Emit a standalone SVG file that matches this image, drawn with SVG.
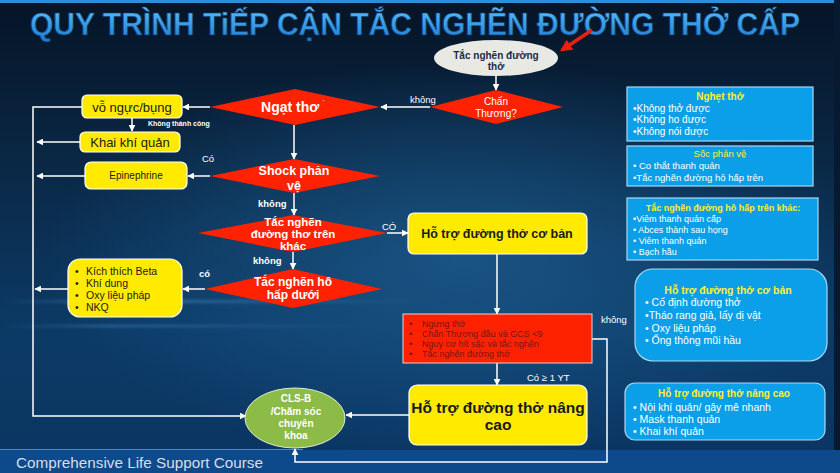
<svg xmlns="http://www.w3.org/2000/svg" width="840" height="473" viewBox="0 0 840 473">
  <defs>
    <linearGradient id="bg" x1="0" y1="0" x2="0" y2="1">
      <stop offset="0" stop-color="#061426"/>
      <stop offset="0.35" stop-color="#0a2846"/>
      <stop offset="0.7" stop-color="#0c3a66"/>
      <stop offset="1" stop-color="#0b3562"/>
    </linearGradient>
    <radialGradient id="glow" cx="0.55" cy="0.5" r="0.5">
      <stop offset="0" stop-color="#1d5f93" stop-opacity="0.75"/>
      <stop offset="1" stop-color="#1d5f93" stop-opacity="0"/>
    </radialGradient>
    <linearGradient id="titleFill" x1="0" y1="0" x2="0" y2="1">
      <stop offset="0" stop-color="#5cc0ff"/>
      <stop offset="1" stop-color="#1a78cc"/>
    </linearGradient>
    <linearGradient id="streak" x1="0" y1="0" x2="1" y2="0">
      <stop offset="0" stop-color="#5aa8e8" stop-opacity="0"/>
      <stop offset="0.3" stop-color="#5aa8e8" stop-opacity="0.45"/>
      <stop offset="1" stop-color="#5aa8e8" stop-opacity="0"/>
    </linearGradient>
    <filter id="soft" x="-10%" y="-200%" width="120%" height="500%">
      <feGaussianBlur stdDeviation="1.5"/>
    </filter>
    <marker id="arrow" viewBox="0 0 10 10" refX="9" refY="5" markerWidth="7" markerHeight="7" markerUnits="userSpaceOnUse" orient="auto">
      <path d="M0 0 L10 5 L0 10 z" fill="#ffffff"/>
    </marker>
    <marker id="redArrow" viewBox="0 0 10 10" refX="8" refY="5" markerWidth="12" markerHeight="12" markerUnits="userSpaceOnUse" orient="auto">
      <path d="M0 0 L10 5 L0 10 z" fill="#e8200e"/>
    </marker>
  </defs>
  <style>
    text { font-family: "Liberation Sans", Arial, sans-serif; }
    .title { font-family: "Liberation Sans Narrow", "Liberation Sans", sans-serif; font-weight: bold; font-size: 31px; fill: url(#titleFill); stroke: #0a3a6a; stroke-width: 0.6px; }
    .conn { fill: none; stroke: #ffffff; stroke-width: 1.5; }
    .yellow { fill: #ffea00; stroke: #ffffff; stroke-width: 1.2; }
    .diamond { fill: #ff2200; }
    .dtxt { fill: #ffffff; font-weight: bold; text-anchor: middle; }
    .ytxt { fill: #1a1a1a; text-anchor: middle; }
    .lbl { fill: #ffffff; font-size: 9.5px; }
    .blue { fill: #0a9fe8; stroke: #a8d8f4; stroke-width: 1.2; }
    .bhead { fill: #ffee33; font-weight: bold; text-anchor: middle; }
    .btxt { fill: #ffffff; }
    .rtxt { fill: #7a1414; font-size: 9px; }
  </style>

  <!-- backdrop -->
  <rect x="0" y="0" width="840" height="473" fill="url(#bg)"/>
  <rect x="0" y="60" width="840" height="400" fill="url(#glow)"/>
  <rect x="0" y="300" width="420" height="3" fill="url(#streak)" filter="url(#soft)"/>
  <rect x="0" y="325" width="360" height="2" fill="url(#streak)" filter="url(#soft)"/>
  <rect x="0" y="0" width="840" height="3" fill="#2c8fd8"/>
  <rect x="834" y="0" width="6" height="473" fill="#071a30"/>

  <!-- footer band -->
  <rect x="0" y="450" width="840" height="23" fill="#0d4a8c"/>
  <rect x="0" y="449" width="303" height="1" fill="#4f86bf"/>
  <text x="16" y="468" font-size="14" fill="#d6dde6" textLength="247" lengthAdjust="spacingAndGlyphs">Comprehensive  Life Support Course</text>

  <!-- heading -->
  <text class="title" x="30" y="35" textLength="770" lengthAdjust="spacingAndGlyphs">QUY TRÌNH TiẾP CẬN TẮC NGHẼN ĐƯỜNG THỞ CẤP</text>

  <!-- connectors -->
  <g id="connectors">
    <path class="conn" d="M496 76 V90" marker-end="url(#arrow)"/>
    <path class="conn" d="M430 107 H381" marker-end="url(#arrow)"/>
    <path class="conn" d="M210 107 H183" marker-end="url(#arrow)"/>
    <path class="conn" d="M132 118 V131" marker-end="url(#arrow)"/>
    <path class="conn" d="M294 125 V159" marker-end="url(#arrow)"/>
    <path class="conn" d="M210 176 H188" marker-end="url(#arrow)"/>
    <path class="conn" d="M294 193 V215" marker-end="url(#arrow)"/>
    <path class="conn" d="M387 233 H408" marker-end="url(#arrow)"/>
    <path class="conn" d="M293 252 V269" marker-end="url(#arrow)"/>
    <path class="conn" d="M205 289 H183" marker-end="url(#arrow)"/>
    <path class="conn" d="M497 254 V314" marker-end="url(#arrow)"/>
    <path class="conn" d="M497 363 V385" marker-end="url(#arrow)"/>
    <path class="conn" d="M409 415 H346" marker-end="url(#arrow)"/>
    <path class="conn" d="M82 107 H33 V416 H246" marker-end="url(#arrow)"/>
    <path class="conn" d="M80 142 H37" marker-end="url(#arrow)"/>
    <path class="conn" d="M85 176 H37" marker-end="url(#arrow)"/>
    <path class="conn" d="M68 289 H35" marker-end="url(#arrow)"/>
    <path class="conn" d="M592 339 H607 V462 H295 V449" marker-end="url(#arrow)"/>
    <path d="M592 30 L562 50" fill="none" stroke="#e8200e" stroke-width="3.5" marker-end="url(#redArrow)"/>
  </g>

  <!-- connector labels -->
  <g id="labels">
    <text class="lbl" x="410" y="103">không</text>
    <text x="148" y="126" font-size="7" font-weight="bold" fill="#ffffff">Không thành công</text>
    <text class="lbl" x="202" y="162">Có</text>
    <text class="lbl" x="258" y="207" font-weight="bold" font-size="9">không</text>
    <text class="lbl" x="382" y="230" font-size="9">CÓ</text>
    <text class="lbl" x="253" y="264" font-weight="bold" font-size="9">không</text>
    <text class="lbl" x="199" y="277" font-weight="bold" font-size="9">có</text>
    <text class="lbl" x="601" y="323">không</text>
    <text class="lbl" x="527" y="381">Có  ≥ 1 YT</text>
  </g>

  <!-- start -->
  <g id="start">
    <ellipse cx="496" cy="58" rx="62" ry="18" fill="#e9e9e4"/>
    <text x="496" y="59" font-size="10" font-weight="bold" fill="#1c2a4a" text-anchor="middle">Tắc nghẽn đường</text>
    <text x="496" y="70" font-size="10" font-weight="bold" fill="#1c2a4a" text-anchor="middle">thở</text>
  </g>

  <g id="chan-thuong">
    <polygon class="diamond" points="430,107 496,90 563,107 496,124"/>
    <text x="496" y="105" font-size="10" fill="#ffffff" text-anchor="middle">Chấn</text>
    <text x="496" y="117" font-size="10" fill="#ffffff" text-anchor="middle">Thương?</text>
  </g>

  <g id="ngat-tho">
    <polygon class="diamond" points="210,107 295,89 380,107 295,125"/>
    <text class="dtxt" x="293" y="112" font-size="14">Ngạt thơ<tspan font-size="8" dx="3" dy="-6">˙</tspan></text>
  </g>

  <g id="vo-nguc">
    <rect class="yellow" x="82" y="95" width="100" height="23" rx="5"/>
    <text class="ytxt" x="132" y="112" font-size="13">vỗ ngực/bụng</text>
  </g>

  <g id="khai-khi-quan">
    <rect class="yellow" x="80" y="132" width="100" height="20" rx="5"/>
    <text class="ytxt" x="130" y="147" font-size="13">Khai khí quản</text>
  </g>

  <g id="shock">
    <polygon class="diamond" points="210,176 294,159 380,176 294,193"/>
    <text class="dtxt" x="294" y="175" font-size="12.5">Shock phản</text>
    <text class="dtxt" x="294" y="190" font-size="12.5">vệ</text>
  </g>

  <g id="epinephrine">
    <rect class="yellow" x="85" y="162" width="102" height="27" rx="6"/>
    <text class="ytxt" x="136" y="179" font-size="10">Epinephrine</text>
  </g>

  <g id="tac-nghen-tren">
    <polygon class="diamond" points="198,233 293,215 387,233 293,252"/>
    <text class="dtxt" x="293" y="226" font-size="11.5">Tắc nghẽn</text>
    <text class="dtxt" x="293" y="238" font-size="11.5">đường thơ trên</text>
    <text class="dtxt" x="293" y="250" font-size="11.5">khác</text>
  </g>

  <g id="ho-tro-co-ban">
    <rect class="yellow" x="408" y="213" width="179" height="41" rx="6"/>
    <text class="ytxt" x="497" y="238" font-size="12.5" font-weight="bold" fill="#1a1a2a">Hỗ trợ đường thở cơ bản</text>
  </g>

  <g id="tac-nghen-duoi">
    <polygon class="diamond" points="205,289 293,269 382,289 293,308"/>
    <text class="dtxt" x="293" y="286" font-size="12">Tắc nghẽn hô</text>
    <text class="dtxt" x="293" y="299" font-size="12">hấp dưới</text>
  </g>

  <g id="dieu-tri-duoi">
    <rect class="yellow" x="68" y="259" width="114" height="58" rx="12"/>
    <g font-size="10.5" fill="#1a1a1a">
      <text x="75" y="275">•</text><text x="86" y="275">Kích thích Beta</text>
      <text x="75" y="287">•</text><text x="86" y="287">Khí dung</text>
      <text x="75" y="299">•</text><text x="86" y="299">Oxy liệu pháp</text>
      <text x="75" y="311">•</text><text x="86" y="311">NKQ</text>
    </g>
  </g>

  <g id="yeu-to">
    <rect x="403" y="314" width="189" height="49" fill="#ff2200" stroke="#f2d0c8" stroke-width="1"/>
    <g class="rtxt">
      <text x="409" y="327">•</text><text x="422" y="327">Ngưng thở</text>
      <text x="409" y="337">•</text><text x="422" y="337">Chấn Thương đầu và GCS &lt;9</text>
      <text x="409" y="347">•</text><text x="422" y="347">Nguy cơ hít sặc và tắc nghẽn</text>
      <text x="409" y="357">•</text><text x="422" y="357">Tắc nghẽn đường thở</text>
    </g>
  </g>

  <g id="ho-tro-nang-cao">
    <rect class="yellow" x="409" y="385" width="178" height="60" rx="8"/>
    <text class="ytxt" x="498" y="413" font-size="15.5" font-weight="bold">Hỗ trợ đường thở nâng</text>
    <text class="ytxt" x="498" y="430" font-size="15.5" font-weight="bold">cao</text>
  </g>

  <g id="cls-b">
    <ellipse cx="295" cy="418" rx="50" ry="30" fill="#8cbb48" stroke="#dfe8d0" stroke-width="1"/>
    <g class="dtxt" font-size="10">
      <text x="296" y="402">CLS-B</text>
      <text x="296" y="415">/Chăm sóc</text>
      <text x="296" y="427">chuyên</text>
      <text x="296" y="439">khoa</text>
    </g>
  </g>

  <!-- side notes -->
  <g id="note-nghet-tho">
    <rect class="blue" x="627" y="87" width="186" height="54"/>
    <text class="bhead" x="720" y="100" font-size="10">Nghẹt thở</text>
    <g class="btxt" font-size="10">
      <text x="633" y="112">•Không thở được</text>
      <text x="633" y="123">•Không  ho được</text>
      <text x="633" y="135">•Không nói được</text>
    </g>
  </g>

  <g id="note-soc">
    <rect class="blue" x="627" y="146" width="186" height="40"/>
    <text x="720" y="157" font-size="9.5" fill="#ffee33" text-anchor="middle">Sốc phản vệ</text>
    <g class="btxt" font-size="9.5">
      <text x="633" y="169">• Co thắt thanh quản</text>
      <text x="633" y="181">•Tắc nghẽn đường hô hấp trên</text>
    </g>
  </g>

  <g id="note-tren-khac">
    <rect class="blue" x="627" y="198" width="191" height="62"/>
    <text class="bhead" x="723" y="211" font-size="9">Tắc nghẽn đường hô hấp trên khác:</text>
    <g class="btxt" font-size="9">
      <text x="633" y="222">•Viêm thanh quản cấp</text>
      <text x="633" y="233">• Abces thành sau họng</text>
      <text x="633" y="244">• Viêm thanh quản</text>
      <text x="633" y="255">• Bạch hầu</text>
    </g>
  </g>

  <g id="note-co-ban">
    <rect class="blue" x="635" y="269" width="192" height="92" rx="18"/>
    <text class="bhead" x="728" y="294" font-size="10.5">Hỗ trợ đường thở cơ bản</text>
    <g class="btxt" font-size="10.5">
      <text x="645" y="306">• Cố định đường thở</text>
      <text x="645" y="319">•Tháo rang giả, lấy dị vật</text>
      <text x="645" y="332">• Oxy liệu pháp</text>
      <text x="645" y="344">• Ống thông mũi hầu</text>
    </g>
  </g>

  <g id="note-nang-cao">
    <rect class="blue" x="625" y="383" width="200" height="57" rx="10"/>
    <text class="bhead" x="724" y="397" font-size="10">Hỗ trợ đường thở nâng cao</text>
    <g class="btxt" font-size="10.5">
      <text x="633" y="411">• Nội khí quản/ gây mê nhanh</text>
      <text x="633" y="423">• Mask thanh quản</text>
      <text x="633" y="435">• Khai khí quản</text>
    </g>
  </g>
</svg>
